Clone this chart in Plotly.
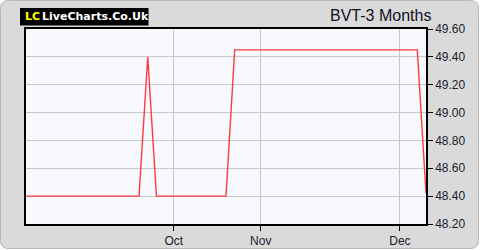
import plotly.graph_objects as go

# Data
dates = ["2023-09-05","2023-09-06","2023-09-07","2023-09-08","2023-09-11","2023-09-12",
         "2023-09-13","2023-09-14","2023-09-15","2023-09-18","2023-09-19","2023-09-20",
         "2023-09-21","2023-09-22","2023-09-25","2023-09-27","2023-09-29",
         "2023-10-02","2023-10-04","2023-10-06","2023-10-10","2023-10-12","2023-10-16",
         "2023-10-18","2023-10-20","2023-10-24","2023-10-30",
         "2023-11-01","2023-11-02","2023-11-03","2023-11-06","2023-11-07","2023-11-08",
         "2023-11-10","2023-11-13","2023-11-15","2023-11-16","2023-11-20","2023-11-22",
         "2023-11-24","2023-11-27","2023-11-28","2023-11-30",
         "2023-12-01","2023-12-04","2023-12-05","2023-12-06"]
prices = [48.40]*13 + [48.40, 49.40, 48.40] + [48.40]*8 + [49.45]*22 + [48.42]
month_ticks = ["2023-10-02", "2023-11-01", "2023-12-01"]
month_labels = ["Oct", "Nov", "Dec"]
y_ticks = [48.20, 48.40, 48.60, 48.80, 49.00, 49.20, 49.40, 49.60]
title = "BVT-3 Months"

idx = list(range(len(dates)))
tickpos = [dates.index(d) for d in month_ticks]

W, H = 480, 250
L, R, T, B = 26, 54, 29, 26
pw, ph = W - L - R, H - T - B

def px2x(px):
    return (px - L) / pw

def py2y(py):
    return 1 - (py - T) / ph

fig = go.Figure()
fig.add_trace(go.Scatter(x=idx, y=prices, mode="lines",
                         line=dict(color="#ff3b3b", width=1.4),
                         hoverinfo="skip", showlegend=False))

# rounded frame
r = 8
x0, y0, x1, y1 = 0.5, 0.5, W - 1.5, H - 1.5
path = (f"M {px2x(x0+r)},{py2y(y0)} L {px2x(x1-r)},{py2y(y0)} "
        f"Q {px2x(x1)},{py2y(y0)} {px2x(x1)},{py2y(y0+r)} "
        f"L {px2x(x1)},{py2y(y1-r)} Q {px2x(x1)},{py2y(y1)} {px2x(x1-r)},{py2y(y1)} "
        f"L {px2x(x0+r)},{py2y(y1)} Q {px2x(x0)},{py2y(y1)} {px2x(x0)},{py2y(y1-r)} "
        f"L {px2x(x0)},{py2y(y0+r)} Q {px2x(x0)},{py2y(y0)} {px2x(x0+r)},{py2y(y0)} Z")
shapes = [
    dict(type="path", xref="paper", yref="paper", path=path,
         fillcolor="#dadada", line=dict(color="#b8b8b8", width=1), layer="below"),
    dict(type="rect", xref="paper", yref="paper", x0=0, y0=0, x1=1, y1=1,
         fillcolor="#f8f9ff", line=dict(width=0), layer="below"),
    dict(type="rect", xref="paper", yref="paper",
         x0=px2x(20), x1=px2x(148.5), y0=py2y(25.5), y1=py2y(8),
         fillcolor="#000000", line=dict(width=0), layer="above"),
]

annotations = [
    dict(text="LC", xref="paper", yref="paper", x=px2x(22.5), y=py2y(16.8),
         xanchor="left", yanchor="middle", showarrow=False,
         font=dict(family="DejaVu Sans", size=11, color="#ffff00", weight="bold")),
    dict(text="LiveCharts.Co.Uk", xref="paper", yref="paper", x=px2x(39.5), y=py2y(16.8),
         xanchor="left", yanchor="middle", showarrow=False,
         font=dict(family="DejaVu Sans", size=11, color="#ffffff", weight="bold")),
    dict(text=title, xref="paper", yref="paper", x=px2x(433), y=py2y(15.5),
         xanchor="right", yanchor="middle", showarrow=False,
         font=dict(family="Liberation Sans", size=16, color="#101025")),
]

fig.update_layout(
    width=W, height=H,
    margin=dict(l=L, r=R, t=T, b=B, pad=0, autoexpand=False),
    paper_bgcolor="#ffffff", plot_bgcolor="rgba(0,0,0,0)",
    shapes=shapes, annotations=annotations,
    xaxis=dict(range=[0, len(dates) - 1], tickvals=tickpos, ticktext=month_labels,
               automargin=False,
               showgrid=True, gridcolor="#c8c8c8", gridwidth=1,
               showline=True, linecolor="#000000", linewidth=1.5, mirror=True,
               ticks="outside", ticklen=5, tickcolor="#000000",
               tickfont=dict(family="Liberation Sans", size=12, color="#1a1a30"),
               zeroline=False, fixedrange=True),
    yaxis=dict(range=[48.20, 49.60], side="right", tickvals=y_ticks,
               ticktext=[f"{v:.2f}" for v in y_ticks], automargin=False,
               showgrid=True, gridcolor="#c8c8c8", gridwidth=1,
               showline=True, linecolor="#000000", linewidth=1.5, mirror=True,
               ticks="outside", ticklen=5, tickcolor="#000000",
               tickfont=dict(family="Liberation Sans", size=12, color="#1a1a30"),
               zeroline=False, fixedrange=True),
)

fig.write_html("out.html", config={"displayModeBar": False})
